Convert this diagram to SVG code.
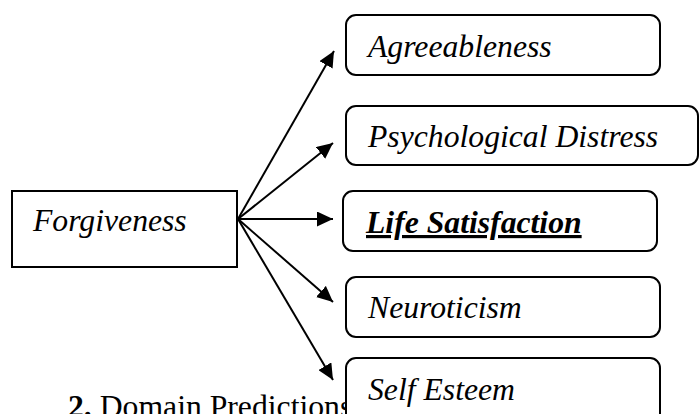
<svg xmlns="http://www.w3.org/2000/svg" width="699" height="414" viewBox="0 0 699 414">
  <style>
    .box { fill: #ffffff; stroke: #000000; stroke-width: 2; }
    .lbl { font-family: "Liberation Serif", "Times New Roman", serif; font-size: 31.7px; font-style: italic; fill: #000000; }
    .cap { font-family: "Liberation Serif", "Times New Roman", serif; font-size: 31.7px; fill: #000000; }
    .conn { stroke: #000000; stroke-width: 2; fill: none; marker-end: url(#arrow); }
  </style>
  <defs>
    <marker id="arrow" markerUnits="userSpaceOnUse" markerWidth="17" markerHeight="15" refX="16" refY="7.5" orient="auto">
      <path d="M0,0 L16,7.5 L0,15 Z" fill="#000000"/>
    </marker>
  </defs>
  <rect width="699" height="414" fill="#ffffff"/>

  <text class="cap" x="68" y="417"><tspan font-weight="bold">2.</tspan> Domain Predictions</text>

  <g id="connectors">
    <line class="conn" x1="238" y1="219" x2="334" y2="51"/>
    <line class="conn" x1="238" y1="219" x2="333" y2="143"/>
    <line class="conn" x1="238" y1="219" x2="333" y2="219"/>
    <line class="conn" x1="238" y1="219" x2="333" y2="302"/>
    <line class="conn" x1="238" y1="219" x2="333" y2="380"/>
  </g>

  <g id="forgiveness">
    <rect class="box" x="12" y="191" width="225" height="76"/>
    <text class="lbl" x="33" y="231">Forgiveness</text>
  </g>

  <g id="agreeableness">
    <rect class="box" x="346" y="15" width="314" height="60" rx="10" ry="10"/>
    <text class="lbl" x="368" y="57">Agreeableness</text>
  </g>

  <g id="psychological-distress">
    <rect class="box" x="346" y="106" width="352" height="59" rx="10" ry="10"/>
    <text class="lbl" x="368" y="147">Psychological Distress</text>
  </g>

  <g id="life-satisfaction">
    <rect class="box" x="343" y="191" width="314" height="60" rx="10" ry="10"/>
    <text class="lbl" x="366" y="233" font-weight="bold" text-decoration="underline">Life Satisfaction</text>
  </g>

  <g id="neuroticism">
    <rect class="box" x="346" y="277" width="314" height="60" rx="10" ry="10"/>
    <text class="lbl" x="368" y="318">Neuroticism</text>
  </g>

  <g id="self-esteem">
    <rect class="box" x="346" y="358" width="314" height="70" rx="10" ry="10"/>
    <text class="lbl" x="368" y="400">Self Esteem</text>
  </g>
</svg>
